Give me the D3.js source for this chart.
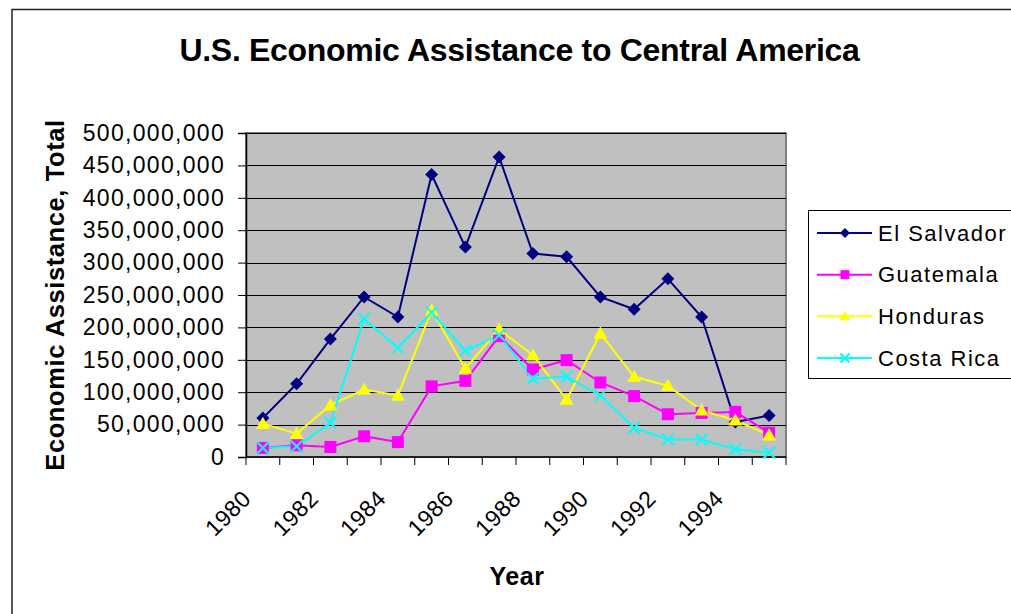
<!DOCTYPE html>
<html>
<head>
<meta charset="utf-8">
<script src="https://cdn.jsdelivr.net/npm/d3@7"></script>
<style>
  html, body { margin: 0; padding: 0; background: #fff; }
  svg { display: block; }
  text { font-family: "Liberation Sans", Arial, sans-serif; fill: #000; }
</style>
</head>
<body>
<svg id="chart" width="1011" height="614"></svg>
<script>
// ---- data ----
const years = [1980, 1981, 1982, 1983, 1984, 1985, 1986, 1987, 1988, 1989, 1990, 1991, 1992, 1993, 1994, 1995];
const elSalvador = [60e6, 113e6, 182e6, 247e6, 216e6, 436e6, 324e6, 463e6, 314e6, 309e6, 247e6, 228e6, 275e6, 216e6, 54e6, 64e6];
const guatemala  = [14e6, 18e6, 15.5e6, 32e6, 23e6, 109e6, 117.5e6, 186.6e6, 135e6, 149.5e6, 115e6, 94e6, 66e6, 68e6, 69.6e6, 37.6e6];
const honduras   = [51.5e6, 36e6, 80e6, 104e6, 95e6, 226e6, 136.6e6, 197e6, 157e6, 88.7e6, 190.7e6, 123.7e6, 110e6, 72e6, 56.7e6, 33.5e6];
const costaRica  = [14e6, 16.5e6, 52.6e6, 213e6, 168.5e6, 223e6, 164e6, 188e6, 121e6, 123.7e6, 95e6, 45e6, 27e6, 27e6, 12e6, 6.7e6];
const seriesNames = ["El Salvador", "Guatemala", "Honduras", "Costa Rica"];
const yTicks = [0, 50e6, 100e6, 150e6, 200e6, 250e6, 300e6, 350e6, 400e6, 450e6, 500e6];
const xTickLabels = [1980, 1982, 1984, 1986, 1988, 1990, 1992, 1994];
const titleText = "U.S. Economic Assistance to Central America";
const xTitle = "Year";
const yTitle = "Economic Assistance, Total";

// ---- styles ----
const colors = ["#000080", "#FF00FF", "#FFFF00", "#00FFFF"];
const markers = ["diamond", "square", "triangle", "cross"];
const seriesValues = [elSalvador, guatemala, honduras, costaRica];

const svg = d3.select("#chart");
const plot = { left: 246, right: 786, top: 133, bottom: 457 };

// outer chart border
svg.append("rect")
  .attr("x", 12).attr("y", 9.5)
  .attr("width", 1100).attr("height", 700)
  .attr("fill", "#fff").attr("stroke", "#222").attr("stroke-width", 1.5);

const x = d3.scaleBand().domain(years).range([plot.left, plot.right]).padding(0);
const y = d3.scaleLinear().domain([0, 500e6]).range([plot.bottom, plot.top]);
const cx = d => x(d) + x.bandwidth() / 2;

// plot background
svg.append("rect")
  .attr("x", plot.left).attr("y", plot.top)
  .attr("width", plot.right - plot.left).attr("height", plot.bottom - plot.top)
  .attr("fill", "#C0C0C0").attr("stroke", "#808080").attr("stroke-width", 2);

// gridlines
svg.append("g").selectAll("line").data(yTicks.filter(t => t > 0)).join("line")
  .attr("x1", plot.left).attr("x2", plot.right)
  .attr("y1", d => Math.round(y(d)) + 0.5).attr("y2", d => Math.round(y(d)) + 0.5)
  .attr("stroke", "#000").attr("stroke-width", 1);

// y axis
const yAxis = d3.axisLeft(y).tickValues(yTicks).tickSize(8).tickPadding(13)
  .tickFormat(d3.format(","));
const gy = svg.append("g").attr("transform", `translate(${plot.left},0)`).call(yAxis);
gy.select(".domain").attr("stroke", "#000").attr("stroke-width", 1.5);
gy.selectAll(".tick line").attr("stroke", "#000");
gy.selectAll(".tick text")
  .style("font-family", '"Liberation Sans", Arial, sans-serif')
  .attr("font-size", 23).attr("fill", "#000")
  .attr("letter-spacing", 1.3);

// x axis with ticks at category boundaries
const boundaries = years.map(d => x(d)).concat([plot.right]);
svg.append("line")
  .attr("x1", plot.left).attr("x2", plot.right)
  .attr("y1", plot.bottom).attr("y2", plot.bottom)
  .attr("stroke", "#000").attr("stroke-width", 1.5);
svg.append("g").selectAll("line").data(boundaries).join("line")
  .attr("x1", d => d).attr("x2", d => d)
  .attr("y1", plot.bottom).attr("y2", plot.bottom + 8)
  .attr("stroke", "#000").attr("stroke-width", 1);

svg.append("g").selectAll("text").data(xTickLabels).join("text")
  .attr("transform", d => `translate(${cx(d) - 10.5},${500}) rotate(-45)`)
  .attr("text-anchor", "end")
  .attr("font-size", 23)
  .attr("letter-spacing", 0.5)
  .text(d => d);

// lines
const line = d3.line().x((d, i) => cx(years[i])).y(d => y(d));
seriesValues.forEach((vals, s) => {
  svg.append("path").datum(vals)
    .attr("d", line)
    .attr("fill", "none").attr("stroke", colors[s]).attr("stroke-width", 2);
});

function drawMarker(g, type, color, px, py, size) {
  const h = size / 2;
  if (type === "diamond") {
    g.append("path").attr("d", `M${px},${py - h}L${px + h},${py}L${px},${py + h}L${px - h},${py}Z`).attr("fill", color);
  } else if (type === "square") {
    g.append("rect").attr("x", px - h).attr("y", py - h).attr("width", size).attr("height", size).attr("fill", color);
  } else if (type === "triangle") {
    g.append("path").attr("d", `M${px},${py - h}L${px + h},${py + h * 0.75}L${px - h},${py + h * 0.75}Z`).attr("fill", color);
  } else if (type === "cross") {
    const c = h * 0.9;
    g.append("path").attr("d", `M${px - c},${py - c}L${px + c},${py + c}M${px - c},${py + c}L${px + c},${py - c}`)
      .attr("stroke", color).attr("stroke-width", 2).attr("fill", "none");
  }
}

const markerSizes = [13, 12, 14, 13];
seriesValues.forEach((vals, s) => {
  const g = svg.append("g");
  vals.forEach((v, i) => drawMarker(g, markers[s], colors[s], cx(years[i]), y(v), markerSizes[s]));
});

// title
svg.append("text")
  .attr("x", 519.5).attr("y", 61)
  .attr("text-anchor", "middle")
  .attr("font-size", 32).attr("font-weight", "bold")
  .attr("letter-spacing", -0.3)
  .text(titleText);

// axis titles
svg.append("text")
  .attr("x", 517).attr("y", 585)
  .attr("text-anchor", "middle")
  .attr("font-size", 25).attr("font-weight", "bold")
  .attr("letter-spacing", 0.5)
  .text(xTitle);

svg.append("text")
  .attr("transform", `translate(63.5,${295}) rotate(-90)`)
  .attr("text-anchor", "middle")
  .attr("font-size", 25.5).attr("font-weight", "bold")
  .attr("letter-spacing", 0.6)
  .text(yTitle);

// legend
const legend = { x: 808, y: 210, w: 220, h: 168 };
svg.append("rect")
  .attr("x", legend.x + 0.5).attr("y", legend.y + 0.5)
  .attr("width", legend.w).attr("height", legend.h)
  .attr("fill", "#fff").attr("stroke", "#000").attr("stroke-width", 1);
const legendY = d3.scalePoint().domain(seriesNames).range([233, 358]);
const legendMarkerSizes = [10, 9, 11, 10];
seriesNames.forEach((name, s) => {
  const ly = legendY(name);
  const g = svg.append("g");
  g.append("line").attr("x1", 817).attr("x2", 872).attr("y1", ly).attr("y2", ly)
    .attr("stroke", colors[s]).attr("stroke-width", 2);
  drawMarker(g, markers[s], colors[s], 845, ly, legendMarkerSizes[s]);
  g.append("text").attr("x", 878).attr("y", ly + 7.5)
    .attr("font-size", 22).attr("letter-spacing", 1.5)
    .text(name);
});
</script>
</body>
</html>
